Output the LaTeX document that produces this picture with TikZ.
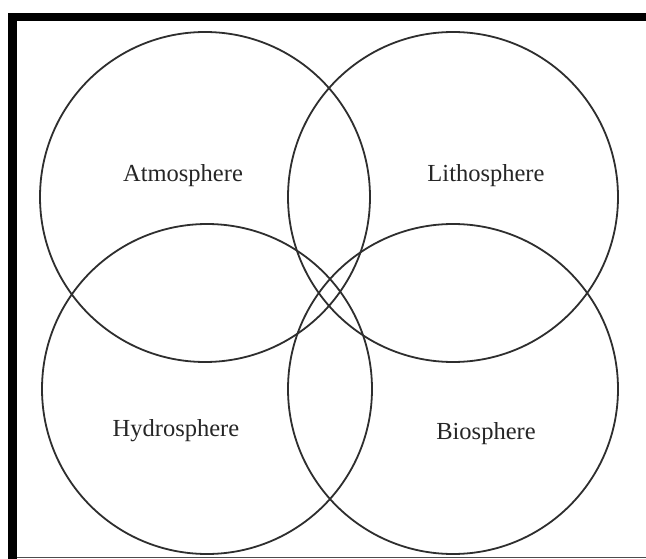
\documentclass[tikz,border=0pt]{standalone}
\usepackage{fontspec}
\setmainfont{Liberation Serif}
\begin{document}
\begin{tikzpicture}[x=1pt,y=-1pt,
  ring/.style={draw=black!82,line width=1.8pt},
  lbl/.style={font=\fontsize{24.5}{28}\selectfont,text=black!85,inner sep=0pt}]
\useasboundingbox (0,0) rectangle (646,559);
\fill[white] (0,0) rectangle (646,559);
% frame
\fill[black] (8,13) rectangle (646,21);
\fill[black] (8,13) rectangle (17,559);
\draw[black!70,line width=1pt] (17,557.5) -- (646,557.5);
% circles
\draw[ring] (205,197) circle (165);
\draw[ring] (453,197) circle (165);
\draw[ring] (207,389) circle (165);
\draw[ring] (453,389) circle (165);
% labels
\node[lbl] (atm) at (183,176) {Atmosphere};
\node[lbl] (lit) at (486,176) {Lithosphere};
\node[lbl] (hyd) at (176,431) {Hydrosphere};
\node[lbl] (bio) at (486,434) {Biosphere};
\end{tikzpicture}
\end{document}
